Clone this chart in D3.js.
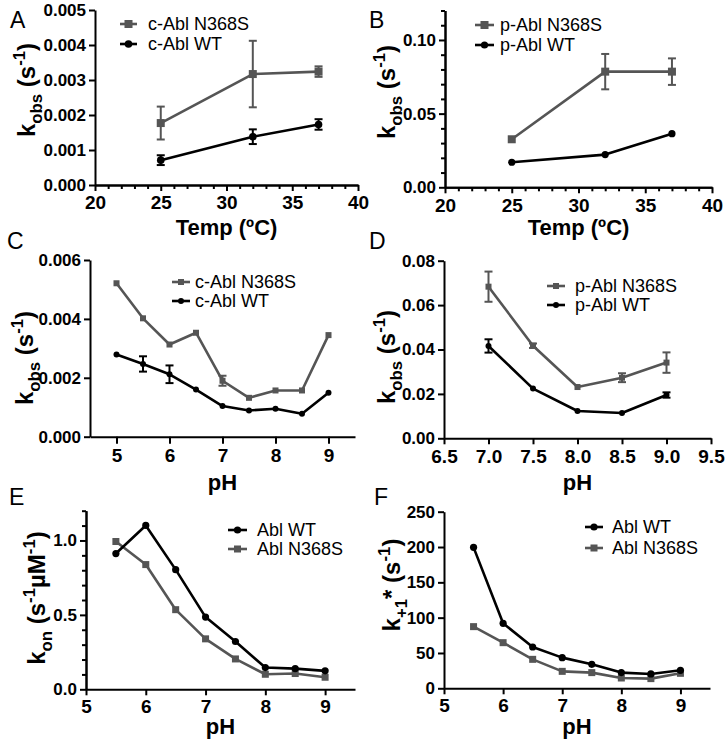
<!DOCTYPE html>
<html>
<head>
<meta charset="utf-8">
<script src="https://cdn.jsdelivr.net/npm/d3@7"></script>
<style>
  body { margin: 0; background: #fff; }
  svg text { font-family: "Liberation Sans", Arial, sans-serif; }
</style>
</head>
<body>
<div id="chart"></div>
<script>
// ---- data ----
var tempX = [25, 32, 37];
var aMutant = [0.00177, 0.00317, 0.00324];
var aMutantErr = [0.00047, 0.00095, 0.00015];
var aWT = [0.00071, 0.00138, 0.00173];
var aWTErr = [0.00014, 0.00021, 0.00015];

var bMutant = [0.0326, 0.0785, 0.0785];
var bMutantErr = [0, 0.012, 0.009];
var bWT = [0.0170, 0.0222, 0.0364];
var bWTErr = [0, 0, 0];

var phC = [5, 5.5, 6, 6.5, 7, 7.5, 8, 8.5, 9];
var cMutant = [0.00521, 0.00402, 0.00313, 0.00353, 0.00190, 0.00132, 0.00157, 0.00157, 0.00345];
var cMutantErr = [0, 0, 0, 0, 0.00017, 0, 0, 0, 0];
var cWT = [0.00279, 0.00247, 0.00212, 0.00160, 0.00104, 0.00089, 0.00095, 0.00078, 0.00149];
var cWTErr = [0, 0.00026, 0.00030, 0, 0, 0, 0, 0, 0];

var phD = [7, 7.5, 8, 8.5, 9];
var dMutant = [0.0683, 0.0417, 0.0231, 0.0273, 0.0341];
var dMutantErr = [0.0068, 0.001, 0, 0.002, 0.0046];
var dWT = [0.0416, 0.0224, 0.0123, 0.0114, 0.0195];
var dWTErr = [0.003, 0, 0, 0, 0.0012];

var phEF = [5.5, 6, 6.5, 7, 7.5, 8, 8.5, 9];
var eWT = [0.912, 1.101, 0.804, 0.485, 0.321, 0.146, 0.139, 0.124];
var eMutant = [0.993, 0.838, 0.535, 0.339, 0.204, 0.101, 0.106, 0.081];
var fWT = [199.5, 92, 58.5, 43.4, 34, 22.2, 20.3, 25.5];
var fMutant = [87.3, 64.6, 41, 24, 22.2, 14.6, 13.7, 21.2];

var tempTicks = [20, 25, 30, 35, 40];
var tempMinor = [21, 22, 23, 24, 26, 27, 28, 29, 31, 32, 33, 34, 36, 37, 38, 39];
var phTicks = [5, 6, 7, 8, 9];
var phTicksD = [6.5, 7, 7.5, 8, 8.5, 9, 9.5];

var GRAY = "#555555", BLACK = "#000000";

var svg = d3.select("#chart").append("svg")
    .attr("width", 725)
    .attr("height", 740);

function styleAxis(sel) {
    sel.select(".domain").attr("stroke", "#000").attr("stroke-width", 2);
    sel.selectAll(".tick line").attr("stroke", "#000").attr("stroke-width", 2);
}

function yTitle(g, bx, cy, parts, fs) {
    var t = g.append("text")
        .attr("transform", "translate(" + bx + "," + cy + ") rotate(-90)")
        .attr("text-anchor", "middle")
        .attr("font-weight", "bold")
        .attr("font-size", fs);
    var shift = 0;
    parts.forEach(function (p) {
        var target = p.k == "sub" ? fs * 0.3 : (p.k == "sup" ? -fs * 0.4 : 0);
        t.append("tspan")
            .attr("dy", target - shift)
            .attr("font-size", p.k == "n" ? fs : fs * 0.7)
            .text(p.t);
        shift = target;
    });
}

function drawPanel(p) {
    var x = d3.scaleLinear().domain(p.xDomain).range(p.xRange);
    var y = d3.scaleLinear().domain(p.yDomain).range(p.yRange);
    var g = svg.append("g");

    // minor ticks first
    if (p.xMinor) {
        g.append("g")
            .attr("transform", "translate(0," + p.yRange[0] + ")")
            .call(d3.axisBottom(x).tickValues(p.xMinor).tickSize(4).tickSizeOuter(0).tickFormat(""))
            .call(styleAxis);
    }
    if (p.yMinor) {
        g.append("g")
            .attr("transform", "translate(" + p.xRange[0] + ",0)")
            .call(d3.axisLeft(y).tickValues(p.yMinor).tickSize(4).tickSizeOuter(0).tickFormat(""))
            .call(styleAxis);
    }

    var xa = g.append("g")
        .attr("transform", "translate(0," + p.yRange[0] + ")")
        .call(d3.axisBottom(x).tickValues(p.xTicks).tickSize(p.xTickSize || 6)
            .tickSizeOuter(0).tickPadding(p.xPad || 5).tickFormat(p.xFmt))
        .call(styleAxis);
    xa.selectAll("text").attr("font-size", 19).attr("font-weight", "bold").attr("fill", "#000");

    var ya = g.append("g")
        .attr("transform", "translate(" + p.xRange[0] + ",0)")
        .call(d3.axisLeft(y).tickValues(p.yTicks).tickSize(6).tickSizeOuter(0)
            .tickPadding(3).tickFormat(p.yFmt))
        .call(styleAxis);
    ya.selectAll("text").attr("font-size", 17).attr("font-weight", "bold").attr("fill", "#000");

    // series
    p.series.forEach(function (s) {
        var pts = p.xs.map(function (v, i) { return { x: v, y: s.values[i], e: s.err ? s.err[i] : 0 }; });
        g.append("path")
            .datum(pts)
            .attr("fill", "none")
            .attr("stroke", s.color)
            .attr("stroke-width", 2.6)
            .attr("stroke-linejoin", "round")
            .attr("d", d3.line().x(function (d) { return x(d.x); }).y(function (d) { return y(d.y); }));

        var eb = g.append("g").attr("stroke", s.color).attr("stroke-width", 2);
        pts.filter(function (d) { return d.e > 0; }).forEach(function (d) {
            var cx = x(d.x), t = y(d.y + d.e), b = y(d.y - d.e), w = p.cap;
            eb.append("line").attr("x1", cx).attr("x2", cx).attr("y1", t).attr("y2", b);
            eb.append("line").attr("x1", cx - w).attr("x2", cx + w).attr("y1", t).attr("y2", t);
            eb.append("line").attr("x1", cx - w).attr("x2", cx + w).attr("y1", b).attr("y2", b);
        });

        drawMarker(g, pts.map(function (d) { return [x(d.x), y(d.y)]; }), s, p);
    });

    // legend
    p.legend.forEach(function (s, i) {
        var ly = p.legendRows[i];
        g.append("line")
            .attr("x1", p.legendLine[0]).attr("x2", p.legendLine[1])
            .attr("y1", ly).attr("y2", ly)
            .attr("stroke", s.color).attr("stroke-width", 2.6);
        drawMarker(g, [[(p.legendLine[0] + p.legendLine[1]) / 2, ly]], s, p);
        g.append("text")
            .attr("x", p.legendText).attr("y", ly)
            .attr("dy", "0.36em")
            .attr("font-size", 18)
            .text(s.label);
    });

    // panel letter
    g.append("text")
        .attr("x", p.letterPos[0]).attr("y", p.letterPos[1])
        .attr("font-size", 23)
        .text(p.letter);

    // axis titles
    g.append("text")
        .attr("x", (p.xRange[0] + p.xRange[1]) / 2)
        .attr("y", p.xTitleY)
        .attr("text-anchor", "middle")
        .attr("font-weight", "bold")
        .attr("font-size", 22)
        .text(p.xTitle);
    yTitle(g, p.yTitlePos[0], p.yTitlePos[1], p.yTitle, 24);
}

function drawMarker(g, coords, s, p) {
    coords.forEach(function (c) {
        if (s.shape == "square") {
            var h = p.sq / 2;
            g.append("rect").attr("x", c[0] - h).attr("y", c[1] - h)
                .attr("width", p.sq).attr("height", p.sq).attr("fill", s.color);
        } else {
            g.append("circle").attr("cx", c[0]).attr("cy", c[1]).attr("r", p.r).attr("fill", s.color);
        }
    });
}

var fmt3 = d3.format(".3f"), fmt2 = d3.format(".2f"), fmt1 = d3.format(".1f"), fmt0 = d3.format("d");
var kobs = [{ t: "k", k: "n" }, { t: "obs", k: "sub" }, { t: " (s", k: "n" }, { t: "-1", k: "sup" }, { t: ")", k: "n" }];

drawPanel({
    letter: "A", letterPos: [10, 28],
    xDomain: [20, 40], xRange: [95, 358], xTicks: tempTicks, xMinor: tempMinor, xFmt: fmt0,
    yDomain: [0, 0.005], yRange: [185, 10], yTicks: [0, 0.001, 0.002, 0.003, 0.004, 0.005], yFmt: fmt3,
    xs: tempX,
    series: [
        { values: aMutant, err: aMutantErr, color: GRAY, shape: "square" },
        { values: aWT, err: aWTErr, color: BLACK, shape: "circle" }
    ],
    sq: 8, r: 3.8, cap: 4,
    legend: [
        { color: GRAY, shape: "square", label: "c-Abl N368S" },
        { color: BLACK, shape: "circle", label: "c-Abl WT" }
    ],
    legendLine: [120, 137], legendText: 148, legendRows: [24, 44],
    xTitle: "Temp (\u00baC)", xTitleY: 235,
    yTitle: kobs, yTitlePos: [35, 90]
});

drawPanel({
    letter: "B", letterPos: [369, 28],
    xDomain: [20, 40], xRange: [445, 712], xTicks: tempTicks, xMinor: tempMinor, xFmt: fmt0,
    yDomain: [0, 0.12], yRange: [187.3, 10.5], yTicks: [0, 0.05, 0.10], yFmt: fmt2,
    yMinor: [0.01, 0.02, 0.03, 0.04, 0.06, 0.07, 0.08, 0.09, 0.11, 0.12],
    xs: tempX,
    series: [
        { values: bMutant, err: bMutantErr, color: GRAY, shape: "square" },
        { values: bWT, err: bWTErr, color: BLACK, shape: "circle" }
    ],
    sq: 8, r: 3.6, cap: 4,
    legend: [
        { color: GRAY, shape: "square", label: "p-Abl N368S" },
        { color: BLACK, shape: "circle", label: "p-Abl WT" }
    ],
    legendLine: [475, 494], legendText: 500, legendRows: [25, 45],
    xTitle: "Temp (\u00baC)", xTitleY: 235,
    yTitle: kobs, yTitlePos: [395, 92]
});

drawPanel({
    letter: "C", letterPos: [7, 249],
    xDomain: [4.5, 9.5], xRange: [90, 355], xTicks: phTicks, xFmt: fmt0, xTickSize: 7,
    yDomain: [0, 0.006], yRange: [436.7, 260], yTicks: [0, 0.002, 0.004, 0.006], yFmt: fmt3,
    xs: phC,
    series: [
        { values: cMutant, err: cMutantErr, color: GRAY, shape: "square" },
        { values: cWT, err: cWTErr, color: BLACK, shape: "circle" }
    ],
    sq: 6, r: 3, cap: 4,
    legend: [
        { color: GRAY, shape: "square", label: "c-Abl N368S" },
        { color: BLACK, shape: "circle", label: "c-Abl WT" }
    ],
    legendLine: [172, 190], legendText: 195, legendRows: [282, 301],
    xTitle: "pH", xTitleY: 490,
    yTitle: kobs, yTitlePos: [33, 358]
});

drawPanel({
    letter: "D", letterPos: [369, 249],
    xDomain: [6.5, 9.5], xRange: [444, 711], xTicks: phTicksD, xFmt: fmt1,
    yDomain: [0, 0.08], yRange: [438.3, 260.7], yTicks: [0, 0.02, 0.04, 0.06, 0.08], yFmt: fmt2,
    xs: phD,
    series: [
        { values: dMutant, err: dMutantErr, color: GRAY, shape: "square" },
        { values: dWT, err: dWTErr, color: BLACK, shape: "circle" }
    ],
    sq: 6, r: 3, cap: 4,
    legend: [
        { color: GRAY, shape: "square", label: "p-Abl N368S" },
        { color: BLACK, shape: "circle", label: "p-Abl WT" }
    ],
    legendLine: [547, 565], legendText: 575, legendRows: [286, 305],
    xTitle: "pH", xTitleY: 490,
    yTitle: kobs, yTitlePos: [395, 357]
});

drawPanel({
    letter: "E", letterPos: [9, 505],
    xDomain: [5, 9.5], xRange: [86, 355], xTicks: phTicks, xFmt: fmt0, xPad: 4,
    yDomain: [0, 1.2], yRange: [689.3, 510.7], yTicks: [0, 0.5, 1.0], yFmt: fmt1,
    yMinor: [0.1, 0.2, 0.3, 0.4, 0.6, 0.7, 0.8, 0.9, 1.1, 1.2],
    xs: phEF,
    series: [
        { values: eMutant, color: GRAY, shape: "square" },
        { values: eWT, color: BLACK, shape: "circle" }
    ],
    sq: 7, r: 3.6, cap: 4,
    legend: [
        { color: BLACK, shape: "circle", label: "Abl WT" },
        { color: GRAY, shape: "square", label: "Abl N368S" }
    ],
    legendLine: [228, 247], legendText: 257, legendRows: [530, 549],
    xTitle: "pH", xTitleY: 734,
    yTitle: [{ t: "k", k: "n" }, { t: "on", k: "sub" }, { t: " (s", k: "n" }, { t: "-1", k: "sup" },
        { t: "\u00b5M", k: "n" }, { t: "-1", k: "sup" }, { t: ")", k: "n" }],
    yTitlePos: [45, 598]
});

drawPanel({
    letter: "F", letterPos: [374, 505],
    xDomain: [5, 9.5], xRange: [444, 710], xTicks: phTicks, xFmt: fmt0, xPad: 4,
    yDomain: [0, 250], yRange: [688.3, 511.7], yTicks: [0, 50, 100, 150, 200, 250], yFmt: fmt0,
    xs: phEF,
    series: [
        { values: fMutant, color: GRAY, shape: "square" },
        { values: fWT, color: BLACK, shape: "circle" }
    ],
    sq: 7, r: 3.6, cap: 4,
    legend: [
        { color: BLACK, shape: "circle", label: "Abl WT" },
        { color: GRAY, shape: "square", label: "Abl N368S" }
    ],
    legendLine: [585, 603], legendText: 612, legendRows: [527, 548],
    xTitle: "pH", xTitleY: 734,
    yTitle: [{ t: "k", k: "n" }, { t: "+1", k: "sub" }, { t: "*", k: "n" }, { t: " (s", k: "n" },
        { t: "-1", k: "sup" }, { t: ")", k: "n" }],
    yTitlePos: [400, 585]
});
</script>
</body>
</html>
